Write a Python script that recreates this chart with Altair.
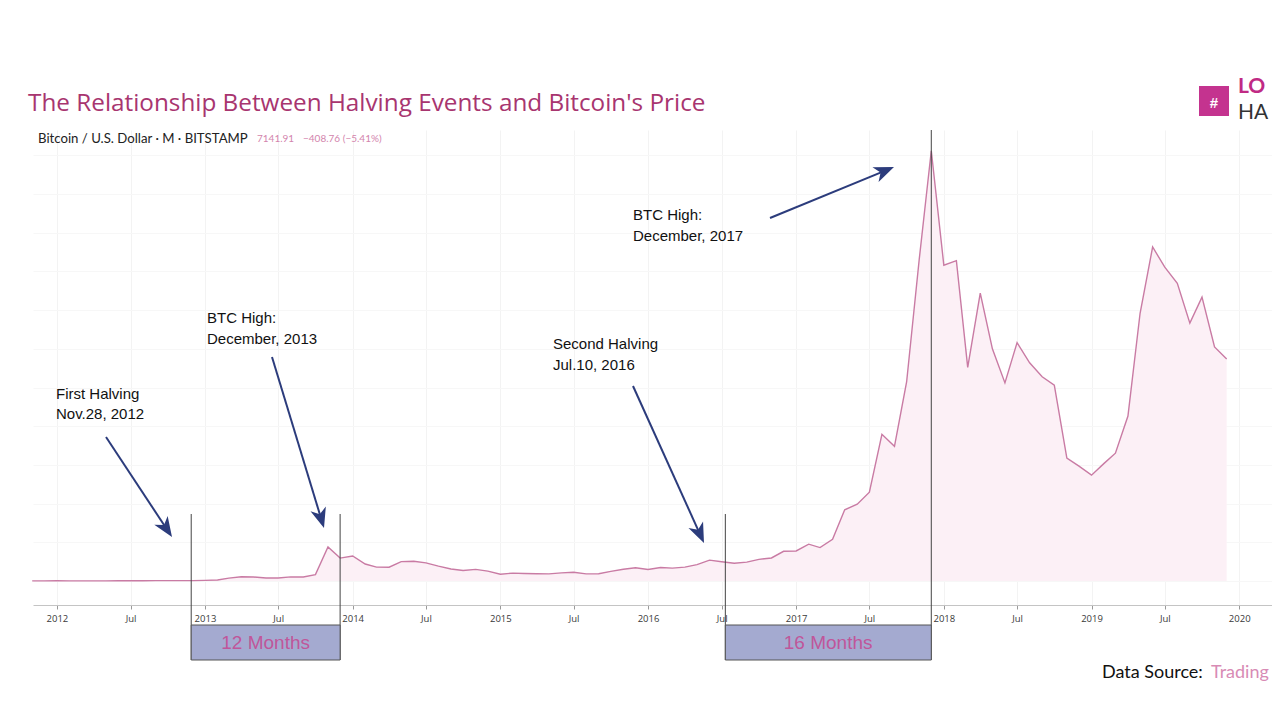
import math
import altair as alt
import pandas as pd

# ---------------- data (monthly close, BTC/USD) ----------------
months = pd.date_range("2011-11-01", "2019-12-01", freq="MS").strftime("%Y-%m-%d").tolist()
price = [
    3, 5, 6, 5, 5, 5, 5, 7, 9, 10, 12, 11, 11, 13,            # 2011-11 .. 2012-12
    20, 33, 93, 139, 129, 97, 98, 135, 128, 206, 1100, 740,     # 2013
    810, 550, 450, 445, 625, 640, 585, 480, 390, 340, 375, 320,  # 2014
    220, 255, 245, 235, 230, 262, 285, 230, 236, 312, 378, 430,  # 2015
    370, 437, 416, 448, 531, 673, 624, 575, 609, 700, 745, 960,  # 2016
    970, 1190, 1080, 1350, 2300, 2480, 2870, 4740, 4350, 6430, 10370, 13900,  # 2017
    10200, 10350, 6900, 9300, 7500, 6400, 7700, 7050, 6600, 6330, 3970, 3710,  # 2018
    3420, 3800, 4130, 5330, 8650, 10790, 10140, 9620, 8330, 9170, 7560, 7170,  # 2019
]
event_dates = ["2012-11-28", "2013-12-01", "2016-07-10", "2017-12-01"]
period_start = ["2012-11-28", "2016-07-10"]
period_end = ["2013-12-01", "2017-12-01"]
period_label = ["12 Months", "16 Months"]
tick_years = list(range(2012, 2021))

df = pd.DataFrame({"date": months, "price": price})
periods = pd.DataFrame({"date": period_start, "end": period_end, "label": period_label})
s = pd.to_datetime(periods["date"])
e = pd.to_datetime(periods["end"])
periods["mid"] = (s + (e - s) / 2).dt.strftime("%Y-%m-%d")

# ---------------- layout ----------------
W, H = 1239, 475
OX, OY = 33, 130  # page position of plot origin

PINK_LINE = "#c97ba4"
PINK_FILL = "#fcf0f6"
NAVY = "#2c3c7c"
TITLE_COL = "#a8356f"

tick_vals = []
for y in tick_years:
    tick_vals.append(alt.DateTime(year=y, month=1, date=1, utc=True))
    if y < 2020:
        tick_vals.append(alt.DateTime(year=y, month=7, date=1, utc=True))

xscale = alt.Scale(
    type="utc",
    domain=[alt.DateTime(year=2011, month=11, date=3, utc=True),
            alt.DateTime(year=2020, month=3, date=22, utc=True)],
)
xaxis = alt.Axis(
    values=tick_vals,
    labelExpr="utcFormat(datum.value, '%m') == '01' ? utcFormat(datum.value, '%Y') : 'Jul'",
    title=None,
    grid=True,
    gridColor="#f3f3f3",
    domainColor="#c4c4c4",
    tickColor="#9a9a9a",
    tickSize=4,
    labelPadding=4,
    labelFontSize=9.5,
    labelFont="Open Sans",
    labelColor="#3a3a3a",
)
yscale = alt.Scale(domain=[-775, 14570], nice=False, zero=False)
yaxis = alt.Axis(
    values=list(range(0, 14001, 1250)),
    labels=False, ticks=False, domain=False, title=None,
    grid=True, gridColor="#f7f7f7",
)

X = alt.X("date:T", scale=xscale, axis=xaxis)
base = alt.Chart(df)

area = base.mark_area(color=PINK_FILL, opacity=1).encode(
    x=X, y=alt.Y("price:Q", scale=yscale, axis=yaxis), y2=alt.value(H)
)
line = base.mark_line(color=PINK_LINE, strokeWidth=1.4).encode(
    x=X, y=alt.Y("price:Q", scale=yscale, axis=yaxis)
)

ev = pd.DataFrame({"date": event_dates})
rules_low = alt.Chart(ev.iloc[[0, 1, 2]]).mark_rule(color="#444444", strokeWidth=1).encode(
    x=X, y=alt.value(384), y2=alt.value(530)
)
rule_top = alt.Chart(ev.iloc[[3]]).mark_rule(color="#444444", strokeWidth=1).encode(
    x=X, y=alt.value(0), y2=alt.value(530)
)

boxes = alt.Chart(periods).mark_rect(fill="#a4aad0", stroke="#555555", strokeWidth=1).encode(
    x=X, x2="end:T", y=alt.value(495), y2=alt.value(530)
)
box_text = alt.Chart(periods).mark_text(
    fontSize=19, color="#c0569a", font="Liberation Sans", baseline="middle"
).encode(
    x=alt.X("mid:T", scale=xscale, axis=xaxis), y=alt.value(513), text="label:N"
)


def txt(s, x, y, size, color, font="Liberation Sans", align="left", weight="normal"):
    return alt.Chart(pd.DataFrame({"t": [s]})).mark_text(
        align=align, baseline="middle", fontSize=size, color=color, font=font, fontWeight=weight
    ).encode(x=alt.value(x - OX), y=alt.value(y - OY), text="t:N")


texts = [
    txt("The Relationship Between Halving Events and Bitcoin's Price", 28, 104, 24.3, TITLE_COL, font="Open Sans"),
    txt("Bitcoin / U.S. Dollar · M · BITSTAMP", 38, 139, 13.2, "#222222", font="Lato"),
    txt("7141.91", 257, 139, 10, "#d384ad", font="Lato"),
    txt("\u2212408.76 (\u22125.41%)", 303, 139, 10, "#d384ad", font="Lato"),
    txt("First Halving", 56, 394, 15, "#111111"),
    txt("Nov.28, 2012", 56, 414, 15, "#111111"),
    txt("BTC High:", 207, 318, 15, "#111111"),
    txt("December, 2013", 207, 339, 15, "#111111"),
    txt("Second Halving", 553, 344, 15, "#111111"),
    txt("Jul.10, 2016", 553, 365, 15, "#111111"),
    txt("BTC High:", 633, 215, 15, "#111111"),
    txt("December, 2017", 633, 236, 15, "#111111"),
    txt("Data Source:", 1102, 673, 18, "#111111", font="Lato"),
    txt("Trading", 1211, 673, 18, "#d88bb5", font="Lato"),
    txt("LO", 1238, 87, 21, "#c02a84", font="Lato", weight="bold"),
    txt("HA", 1238, 113, 21, "#333333", font="Lato"),
]

# logo block
logo = alt.Chart(pd.DataFrame({"t": [1]})).mark_point(
    shape="square", filled=True, size=900, color="#c4338f", opacity=1
).encode(x=alt.value(1214 - OX), y=alt.value(101 - OY))
logo_hash = txt("#", 1214, 103, 15, "#ffffff", align="center", weight="bold")

# arrows (page pixel coords: start -> tip)
arrows = [(106, 437, 172, 537), (272, 357, 324, 528), (633, 386, 704, 543), (770, 218, 894, 167)]
HL = 20
head_path = "M0,-1L0.8,1L0,0.45L-0.8,1Z"
arrow_layers = []
for x0, y0, x1, y1 in arrows:
    dx, dy = x1 - x0, y1 - y0
    L = math.hypot(dx, dy)
    ux, uy = dx / L, dy / L
    ang = math.degrees(math.atan2(dx, -dy)) % 360
    cx, cy = x1 - ux * HL / 2, y1 - uy * HL / 2
    sx, sy = x1 - ux * HL * 0.6, y1 - uy * HL * 0.6
    one = pd.DataFrame({"t": [1]})
    arrow_layers.append(
        alt.Chart(one).mark_rule(color=NAVY, strokeWidth=2).encode(
            x=alt.value(x0 - OX), y=alt.value(y0 - OY),
            x2=alt.value(sx - OX), y2=alt.value(sy - OY),
        )
    )
    arrow_layers.append(
        alt.Chart(one).mark_point(
            shape=head_path, filled=True, size=HL * HL, angle=ang, color=NAVY, opacity=1, strokeWidth=0
        ).encode(x=alt.value(cx - OX), y=alt.value(cy - OY))
    )

chart = alt.layer(
    area, line, rules_low, rule_top, boxes, box_text, *texts, logo, logo_hash, *arrow_layers
).properties(
    width=W,
    height=H,
    autosize=alt.AutoSizeParams(type="none"),
    padding={"left": OX - 8, "top": OY - 8, "right": 0, "bottom": 107},
    background="white",
).configure_view(stroke=None)

chart.save("out.html", embed_options={"renderer": "svg", "actions": False})
